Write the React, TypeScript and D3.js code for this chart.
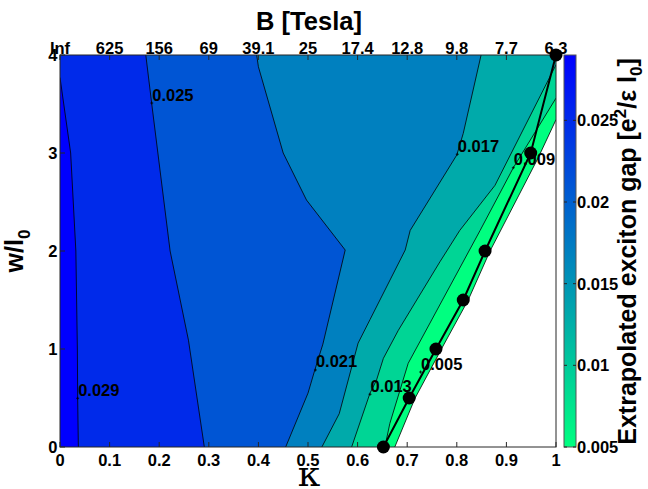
import React from 'react';
import * as d3 from 'd3';

// ---- data ----
const levels = [0.005, 0.009, 0.013, 0.017, 0.021, 0.025, 0.029];
const levelLabels = ['0.005', '0.009', '0.013', '0.017', '0.021', '0.025', '0.029'];

// contour lines [kappa, w/l0], each from a plot edge down to w = 0
const c005: [number, number][] = [[1, 3.34], [0.964, 2.95], [0.867, 2.0], [0.823, 1.5], [0.769, 1.0], [0.716, 0.5], [0.675, 0]];
const c009: [number, number][] = [[1, 3.56], [0.914, 2.85], [0.847, 2.21], [0.702, 0.854], [0.665, 0.24], [0.655, 0]];
const c013: [number, number][] = [[1, 3.9], [0.877, 2.67], [0.806, 2.21], [0.766, 1.89], [0.682, 1.19], [0.652, 0.905], [0.638, 0.68], [0.625, 0.55], [0.588, 0]];
const c017: [number, number][] = [[0.849, 4], [0.813, 3.2], [0.8, 2.98], [0.706, 2.21], [0.696, 2.01], [0.625, 1.3], [0.601, 1.06], [0.563, 0.34], [0.528, 0]];
const c021: [number, number][] = [[0.3965, 4], [0.4, 3.88], [0.45, 3.0], [0.497, 2.52], [0.575, 2.01], [0.53, 1.05], [0.514, 0.79], [0.5, 0.55], [0.455, 0]];
const c025: [number, number][] = [[0.173, 4], [0.185, 3.5], [0.222, 2.0], [0.259, 1.09], [0.291, 0]];
const c029: [number, number][] = [[0, 3.77], [0.0215, 3.0], [0.032, 2.0], [0.035, 1.0], [0.0356, 0.5], [0.037, 0]];
const contours = [c005, c009, c013, c017, c021, c025, c029];

// contour label anchor points [kappa, w]
const labelPos: [number, number][] = [[0.727, 0.765], [0.914, 2.85], [0.625, 0.538], [0.801, 2.987], [0.515, 0.786], [0.185, 3.51], [0.0356, 0.497]];

// phase boundary points
const boundaryKappa = [0.652, 0.704, 0.758, 0.813, 0.857, 0.949, 1.0];
const boundaryW = [0, 0.5, 1.0, 1.5, 2.0, 3.0, 4.0];

const kappaTicks = [0, 0.1, 0.2, 0.3, 0.4, 0.5, 0.6, 0.7, 0.8, 0.9, 1];
const kappaTickLabels = ['0', '0.1', '0.2', '0.3', '0.4', '0.5', '0.6', '0.7', '0.8', '0.9', '1'];
const bTickLabels = ['Inf', '625', '156', '69', '39.1', '25', '17.4', '12.8', '9.8', '7.7', '6.3'];
const wTicks = [0, 1, 2, 3, 4];
const cbTicks = [0.005, 0.01, 0.015, 0.02, 0.025];
const cbTickLabels = ['0.005', '0.01', '0.015', '0.02', '0.025'];

const W = 648, H = 489;
const FONT = "'Liberation Sans', Arial, Helvetica, sans-serif";

export default function App() {
  const x = d3.scaleLinear().domain([0, 1]).range([60, 556]);
  const y = d3.scaleLinear().domain([0, 4]).range([447, 55]);
  const cb = d3.scaleLinear().domain([0.005, 0.029]).range([447, 55]);
  const cmin = 0.005, cmax = 0.029;
  const color = (v: number) => {
    const f = Math.max(0, Math.min(1, (v - cmin) / (cmax - cmin)));
    return d3.rgb(0, 255 * (1 - f), 255 * (0.5 + 0.5 * f)).toString();
  };
  const line = d3.line<[number, number]>().x(d => x(d[0])).y(d => y(d[1]));

  const regionPath = (pts: [number, number][]) => {
    const s = pts[0];
    const closing: [number, number][] = [[0, 0]];
    if (s[0] > 0) closing.push([0, 4]);
    if (s[1] < 4 && s[0] >= 1) closing.push([1, 4]);
    return line([...pts, ...closing]) + 'Z';
  };

  const boundary: [number, number][] = boundaryKappa.map((k, i) => [k, boundaryW[i]]);
  const TS = 16.5;

  return (
    <svg width={W} height={H} style={{ position: 'absolute', left: 0, top: 0, background: '#fff' }} fontFamily={FONT}>
      <defs>
        <linearGradient id="cbgrad" x1="0" y1="1" x2="0" y2="0">
          <stop offset="0%" stopColor={color(cmin)} />
          <stop offset="100%" stopColor={color(cmax)} />
        </linearGradient>
        <clipPath id="plotclip">
          <rect x={x(0)} y={y(4)} width={x(1) - x(0)} height={y(0) - y(4)} />
        </clipPath>
      </defs>
      <rect x={0} y={0} width={W} height={H} fill="#fff" />
      <g clipPath="url(#plotclip)">
        {contours.map((c, i) => (
          <path key={'f' + i} d={regionPath(c)} fill={color(levels[i])} stroke="none" />
        ))}
        {contours.map((c, i) => (
          <path key={'l' + i} d={line(c) || ''} fill="none" stroke="#000" strokeWidth={0.8} />
        ))}
      </g>
      {labelPos.map((p, i) => (
        <g key={'cl' + i}>
          <path d={`M${x(p[0]) - 1.5},${y(p[1])}h3M${x(p[0])},${y(p[1]) - 1.5}v3`} stroke="#000" strokeWidth={0.8} />
          <text x={x(p[0]) + 0.5} y={y(p[1]) - 2.5} fontSize={16.5} fontWeight="bold" fill="#000">{levelLabels[i]}</text>
        </g>
      ))}
      {/* frame */}
      <rect x={x(0)} y={y(4)} width={x(1) - x(0)} height={y(0) - y(4)} fill="none" stroke="#262626" strokeWidth={1} />
      {kappaTicks.map((t, i) => (
        <g key={'kt' + i}>
          <line x1={x(t)} x2={x(t)} y1={y(0)} y2={y(0) - 5} stroke="#262626" />
          <line x1={x(t)} x2={x(t)} y1={y(4)} y2={y(4) + 5} stroke="#262626" />
          <text x={x(t)} y={466} fontSize={TS} fontWeight="bold" textAnchor="middle">{kappaTickLabels[i]}</text>
          <text x={x(t)} y={53.5} fontSize={TS} fontWeight="bold" textAnchor="middle">{bTickLabels[i]}</text>
        </g>
      ))}
      {wTicks.map((t, i) => (
        <g key={'wt' + i}>
          <line x1={x(0)} x2={x(0) + 5} y1={y(t)} y2={y(t)} stroke="#262626" />
          <text x={57.5} y={y(t) + 6} fontSize={TS} fontWeight="bold" textAnchor="end">{t}</text>
        </g>
      ))}
      {/* phase boundary */}
      <path d={line(boundary) || ''} fill="none" stroke="#000" strokeWidth={2} />
      {boundary.map((p, i) => (
        <circle key={'m' + i} cx={x(p[0])} cy={y(p[1])} r={6.5} fill="#000" />
      ))}
      {/* axis titles */}
      <text x={309} y={30} fontSize={25.5} fontWeight="bold" textAnchor="middle">B [Tesla]</text>
      <text x={309} y={486} fontSize={36} fontFamily="'DejaVu Serif', 'Liberation Serif', serif" textAnchor="middle">κ</text>
      <text transform="translate(23,251) rotate(-90)" fontSize={25} fontWeight="bold" textAnchor="middle">
        w/l<tspan fontSize={17} dy={7}>0</tspan>
      </text>
      {/* colorbar */}
      <rect x={564} y={cb(cmax)} width={12} height={cb(cmin) - cb(cmax)} fill="url(#cbgrad)" stroke="#555" strokeWidth={1} />
      {cbTicks.map((t, i) => (
        <g key={'cb' + i}>
          <line x1={573} x2={576} y1={cb(t)} y2={cb(t)} stroke="#262626" />
          <line x1={564} x2={567} y1={cb(t)} y2={cb(t)} stroke="#262626" />
          <text x={577} y={cb(t) + 6} fontSize={TS} fontWeight="bold">{cbTickLabels[i]}</text>
        </g>
      ))}
      <text transform="translate(636,251.5) rotate(-90)" fontSize={25} fontWeight="bold" textAnchor="middle">
        Extrapolated exciton gap [e<tspan fontSize={17} dy={-10}>2</tspan><tspan dy={10}>/ε l</tspan><tspan fontSize={17} dy={6}>0</tspan><tspan dy={-6}>]</tspan>
      </text>
    </svg>
  );
}
